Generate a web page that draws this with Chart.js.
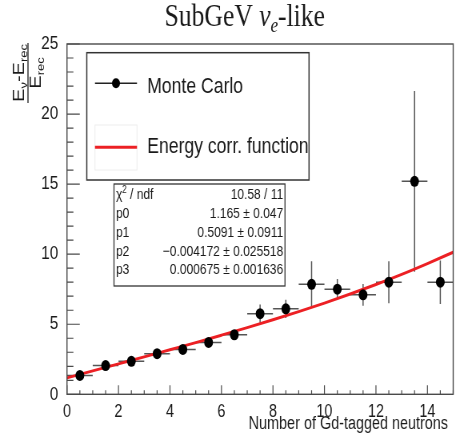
<!DOCTYPE html>
<html><head><meta charset="utf-8">
<script src="https://cdn.jsdelivr.net/npm/chart.js@4"></script>
<style>
html,body{margin:0;padding:0;background:#fff;overflow:hidden;}
#wrap{width:572px;height:443px;transform:scaleX(0.8);transform-origin:0 0;}
</style></head><body>
<div id="wrap"><canvas id="c" width="572" height="443"></canvas></div>
<script>
// ---- data ----
const binCenters = [0.5, 1.5, 2.5, 3.5, 4.5, 5.5, 6.5, 7.5, 8.5, 9.5, 10.5, 11.5, 12.5, 13.5, 14.5];
const binHalfWidths = [0.5, 0.5, 0.5, 0.5, 0.5, 0.5, 0.5, 0.5, 0.5, 0.5, 0.5, 0.5, 0.5, 0.5, 0.5];
const mcValues = [1.35, 2.05, 2.35, 2.9, 3.2, 3.7, 4.25, 5.75, 6.1, 7.85, 7.5, 7.1, 8.0, 15.2, 8.0];
const mcErrors = [0.12, 0.12, 0.13, 0.15, 0.17, 0.2, 0.25, 0.65, 0.65, 1.65, 0.72, 0.78, 1.5, 6.45, 1.55];
const fitX = [0, 1, 2, 3, 4, 5, 6, 7, 8, 9, 10, 11, 12, 13, 14, 15];
const fitValues = [1.17, 1.67, 2.17, 2.67, 3.18, 3.69, 4.22, 4.76, 5.32, 5.9, 6.51, 7.16, 7.84, 8.56, 9.33, 10.14];
const xTickLabels = [0, 2, 4, 6, 8, 10, 12, 14];
const yTickLabels = [0, 5, 10, 15, 20, 25];
const statsLabels = ['p0', 'p1', 'p2', 'p3'];
const statsValues = ['1.165 \u00b1 0.047', '0.5091 \u00b1 0.0911', '\u22120.004172 \u00b1 0.025518', '0.000675 \u00b1 0.001636'];
const chiText = '10.58 / 11';
const legendLabels = ['Monte Carlo', 'Energy corr. function'];
const xTitle = 'Number of Gd-tagged neutrons';

const SANS = '"Liberation Sans", Arial, sans-serif';
const SERIF = '"Liberation Serif", "Times New Roman", serif';
const RED = 'rgb(236,32,36)';
const AXIS = '#4a4a4a';

const errorBars = {
  id: 'errorBars',
  beforeDatasetsDraw(chart) {
    const ctx = chart.ctx, xs = chart.scales.x, ys = chart.scales.y, a = chart.chartArea;
    ctx.save();
    ctx.beginPath(); ctx.rect(a.left, a.top, a.right - a.left, a.bottom - a.top); ctx.clip();
    ctx.strokeStyle = '#555'; ctx.lineWidth = 1.5;
    binCenters.forEach((c, i) => {
      const px = xs.getPixelForValue(c), py = ys.getPixelForValue(mcValues[i]);
      ctx.beginPath();
      ctx.moveTo(xs.getPixelForValue(c - binHalfWidths[i]), py);
      ctx.lineTo(xs.getPixelForValue(c + binHalfWidths[i]), py);
      ctx.moveTo(px, ys.getPixelForValue(mcValues[i] - mcErrors[i]));
      ctx.lineTo(px, ys.getPixelForValue(mcValues[i] + mcErrors[i]));
      ctx.stroke();
    });
    ctx.restore();
  }
};

const frameTicks = {
  id: 'frameTicks',
  afterDatasetsDraw(chart) {
    const ctx = chart.ctx, xs = chart.scales.x, ys = chart.scales.y, a = chart.chartArea;
    ctx.save();
    ctx.strokeStyle = AXIS; ctx.lineWidth = 1.4;
    ctx.strokeRect(a.left, a.top, a.right - a.left, a.bottom - a.top);
    ctx.lineWidth = 1.2;
    ctx.beginPath();
    for (let v = 0; v <= 15.001; v += 0.5) {
      const px = xs.getPixelForValue(v);
      const len = (Math.abs(v / 2 - Math.round(v / 2)) < 1e-6) ? 9 : 4;
      ctx.moveTo(px, a.bottom); ctx.lineTo(px, a.bottom - len);
    }
    for (let v = 0; v <= 25.001; v += 1) {
      const py = ys.getPixelForValue(v);
      const len = (v % 5 === 0) ? 16 : 8;
      ctx.moveTo(a.left, py); ctx.lineTo(a.left + len, py);
    }
    ctx.stroke();
    ctx.restore();
  }
};

const texts = {
  id: 'texts',
  afterDraw(chart) {
    const ctx = chart.ctx, a = chart.chartArea;
    ctx.save();
    ctx.fillStyle = '#1a1a1a';
    // title
    ctx.textBaseline = 'alphabetic';
    const parts = [
      {t: 'SubGeV ', f: '32px ' + SERIF, dy: 0},
      {t: '\u03bd', f: 'italic 32px ' + SERIF, dy: 0},
      {t: 'e', f: 'italic 21px ' + SERIF, dy: 6},
      {t: '-like', f: '32px ' + SERIF, dy: 0}
    ];
    let tw = 0;
    parts.forEach(p => { ctx.font = p.f; p.w = ctx.measureText(p.t).width; tw += p.w; });
    let tx = 306 - tw / 2;
    parts.forEach(p => { ctx.font = p.f; ctx.textAlign = 'left'; ctx.fillText(p.t, tx, 26 + p.dy); tx += p.w; });

    // x title
    ctx.font = '18px ' + SANS; ctx.textAlign = 'right';
    ctx.fillText(xTitle, 560, 429);

    // y title (fraction), rotated
    ctx.save();
    ctx.translate(35, 73);
    ctx.rotate(-Math.PI / 2);
    const num = [
      {t: 'E', f: '20px ' + SANS, dy: 0},
      {t: '\u03bd', f: '13px ' + SANS, dy: 4},
      {t: '-E', f: '20px ' + SANS, dy: 0},
      {t: 'rec', f: '13px ' + SANS, dy: 4}
    ];
    let nw = 0;
    num.forEach(p => { ctx.font = p.f; p.w = ctx.measureText(p.t).width; nw += p.w; });
    let nx = -nw / 2;
    ctx.textAlign = 'left';
    num.forEach(p => { ctx.font = p.f; ctx.fillText(p.t, nx, -5 + p.dy); nx += p.w; });
    const den = [
      {t: 'E', f: '20px ' + SANS, dy: 0},
      {t: 'rec', f: '13px ' + SANS, dy: 4}
    ];
    let dw = 0;
    den.forEach(p => { ctx.font = p.f; p.w = ctx.measureText(p.t).width; dw += p.w; });
    let dx = -dw / 2;
    den.forEach(p => { ctx.font = p.f; ctx.fillText(p.t, dx, 16 + p.dy); dx += p.w; });
    ctx.strokeStyle = '#1a1a1a'; ctx.lineWidth = 1.3;
    ctx.beginPath(); ctx.moveTo(-nw / 2 - 1, 0); ctx.lineTo(nw / 2 + 1, 0); ctx.stroke();
    ctx.restore();

    // legend box
    ctx.strokeStyle = '#333'; ctx.lineWidth = 1.5;
    ctx.fillStyle = '#fff';
    ctx.fillRect(108.5, 52.7, 277.8, 127.3);
    ctx.strokeRect(108.5, 52.7, 277.8, 127.3);
    ctx.strokeStyle = '#eee'; ctx.lineWidth = 1;
    ctx.strokeRect(118.75, 125, 52.5, 45);
    ctx.strokeStyle = '#222'; ctx.lineWidth = 1.5;
    ctx.beginPath(); ctx.moveTo(118.75, 83.3); ctx.lineTo(171.25, 83.3); ctx.stroke();
    ctx.fillStyle = '#000';
    ctx.beginPath(); ctx.arc(145, 83.3, 5, 0, Math.PI * 2); ctx.fill();
    ctx.strokeStyle = RED; ctx.lineWidth = 3;
    ctx.beginPath(); ctx.moveTo(118.75, 147.3); ctx.lineTo(171.25, 147.3); ctx.stroke();
    ctx.fillStyle = '#1a1a1a';
    ctx.font = '22px ' + SANS; ctx.textAlign = 'left';
    ctx.fillText(legendLabels[0], 184, 93);
    ctx.fillText(legendLabels[1], 184, 153);

    // stats box
    ctx.fillStyle = '#fff';
    ctx.fillRect(142.5, 184, 213.75, 102);
    ctx.strokeStyle = '#333'; ctx.lineWidth = 1.3;
    ctx.strokeRect(142.5, 184, 213.75, 102);
    ctx.fillStyle = '#1a1a1a';
    ctx.font = '15px ' + SANS; ctx.textAlign = 'left';
    ctx.fillText('\u03c7', 145, 199);
    let cw = ctx.measureText('\u03c7').width;
    ctx.font = '10px ' + SANS; ctx.fillText('2', 145 + cw, 193);
    let c2 = ctx.measureText('2').width;
    ctx.font = '15px ' + SANS; ctx.fillText(' / ndf', 145 + cw + c2, 199);
    ctx.textAlign = 'right'; ctx.fillText(chiText, 354, 199);
    const rowsY = [217.5, 236.5, 255.5, 274];
    statsLabels.forEach((l, i) => {
      ctx.textAlign = 'left'; ctx.fillText(l, 145, rowsY[i]);
      ctx.textAlign = 'right'; ctx.fillText(statsValues[i], 354, rowsY[i]);
    });
    ctx.restore();
  }
};

new Chart(document.getElementById('c'), {
  type: 'scatter',
  data: {
    datasets: [
      {
        type: 'scatter',
        label: legendLabels[0],
        data: binCenters.map((x, i) => ({x: x, y: mcValues[i]})),
        pointRadius: 5.5, pointHoverRadius: 5.5,
        backgroundColor: '#000', borderColor: '#000', borderWidth: 0,
        order: 0
      },
      {
        type: 'line',
        label: legendLabels[1],
        data: fitX.map((x, i) => ({x: x, y: fitValues[i]})),
        borderColor: RED, borderWidth: 3, pointRadius: 0,
        cubicInterpolationMode: 'monotone', fill: false,
        order: 1
      }
    ]
  },
  options: {
    responsive: false,
    animation: false,
    devicePixelRatio: 1,
    layout: {padding: {left: 0, right: 2, top: 44, bottom: 0}},
    plugins: {legend: {display: false}, title: {display: false}, tooltip: {enabled: false}},
    scales: {
      x: {
        type: 'linear', min: 0, max: 15,
        grid: {display: false}, border: {display: false},
        afterBuildTicks: s => { s.ticks = xTickLabels.map(v => ({value: v})); },
        afterFit: s => { s.height = 48.7; },
        ticks: {font: {family: SANS, size: 18}, color: '#1a1a1a', padding: -1, maxRotation: 0, autoSkip: false}
      },
      y: {
        type: 'linear', min: 0, max: 25,
        grid: {display: false}, border: {display: false},
        afterBuildTicks: s => { s.ticks = yTickLabels.map(v => ({value: v})); },
        afterFit: s => { s.width = 83.75; },
        ticks: {font: {family: SANS, size: 19}, color: '#1a1a1a', padding: 3}
      }
    }
  },
  plugins: [errorBars, frameTicks, texts]
});
</script>
</body></html>
